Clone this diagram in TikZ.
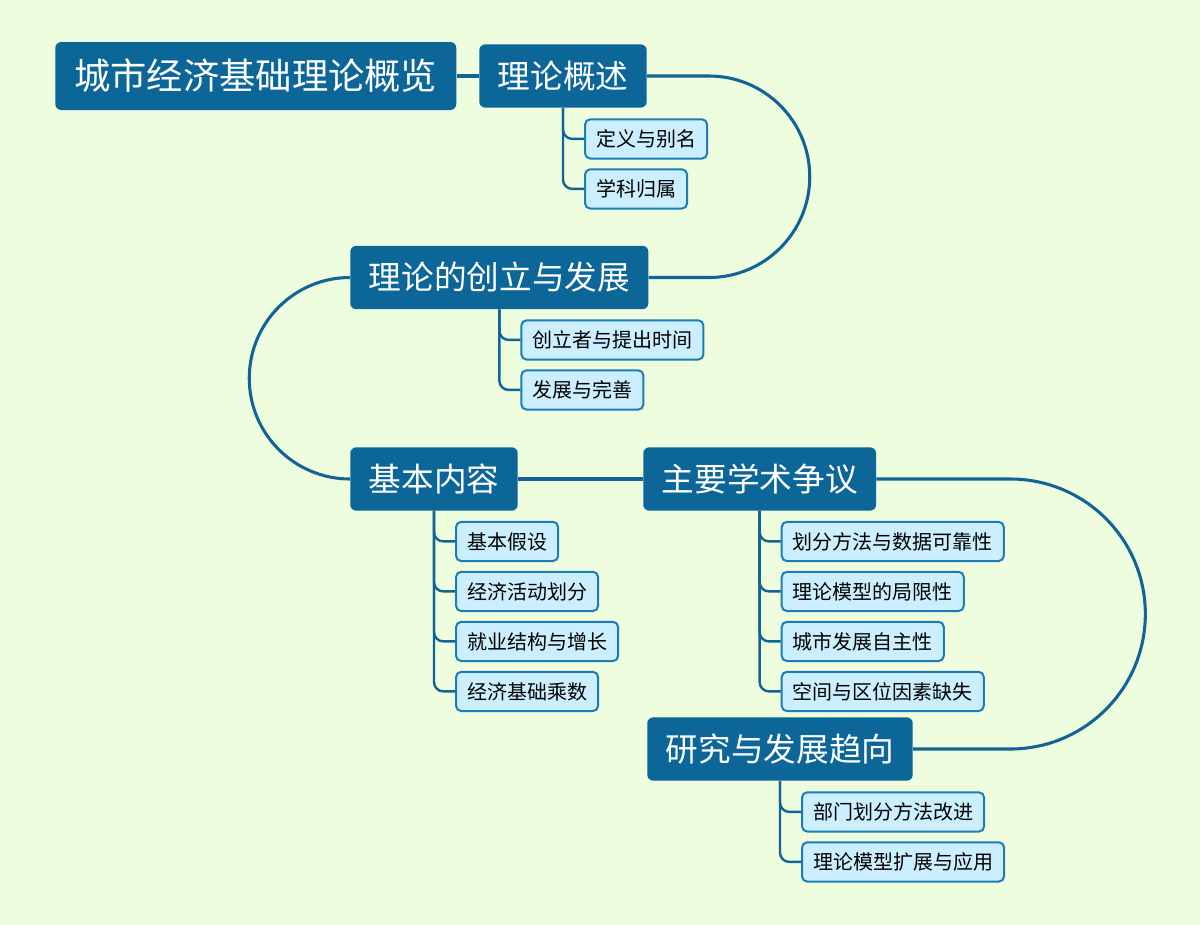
\documentclass[tikz,border=0pt]{standalone}
\usepackage{fontspec}
\newfontfamily\cjk{Noto Sans CJK SC}
\usetikzlibrary{calc}
\definecolor{bgg}{RGB}{237,253,221}
\definecolor{deep}{RGB}{12,102,152}
\definecolor{wire}{RGB}{18,100,150}
\definecolor{pale}{RGB}{204,239,255}
\definecolor{rim}{RGB}{28,124,184}
\tikzset{
  box/.style  ={fill=deep, text=white, rounded corners=4.5pt, anchor=west},
  root/.style ={box, minimum height=51pt, minimum width=300.75pt, inner xsep=0pt,
                font=\cjk\fontsize{27.2pt}{32pt}\selectfont},
  topic/.style={box, minimum height=47.5pt, inner xsep=13.8pt,
                font=\cjk\fontsize{24.5pt}{28pt}\selectfont},
  leaf/.style ={fill=pale, draw=rim, line width=1.5pt, rounded corners=4pt,
                anchor=west, minimum height=29.5pt, inner xsep=8.3pt,
                font=\cjk\fontsize{15pt}{18pt}\selectfont},
  trunk/.style={draw=wire, line width=2.3pt},
  twig/.style ={draw=wire, line width=1.8pt, rounded corners=7pt},
}

\begin{document}
\begin{tikzpicture}[x=0.75pt, y=-0.75pt]
  \fill[bgg] (0,0) rectangle (1200,925);
  \useasboundingbox (0,0) rectangle (1200,925);

  \node[root]  (main) at (55,76)    {城市经济基础理论概览};

  % overview
  \node[topic] (ov)  at (479,76)    {理论概述};
  \node[leaf]  (ov1) at ($(ov.south)+(21,31)$) {定义与别名};
  \node[leaf]  (ov2) at ($(ov.south)+(21,81)$) {学科归属};

  % founding
  \node[topic] (cl)  at (350,277.5) {理论的创立与发展};
  \node[leaf]  (cl1) at ($(cl.south)+(21,30.5)$) {创立者与提出时间};
  \node[leaf]  (cl2) at ($(cl.south)+(21,80.5)$) {发展与完善};

  % content
  \node[topic] (bc)  at (350,479)   {基本内容};
  \node[leaf]  (bc1) at ($(bc.south)+(21,30.5)$)  {基本假设};
  \node[leaf]  (bc2) at ($(bc.south)+(21,80.5)$)  {经济活动划分};
  \node[leaf]  (bc3) at ($(bc.south)+(21,130.5)$) {就业结构与增长};
  \node[leaf]  (bc4) at ($(bc.south)+(21,180.5)$) {经济基础乘数};

  % debates
  \node[topic] (zy)  at (643,479)   {主要学术争议};
  \node[leaf]  (zy1) at ($(zy.south)+(21,30.5)$)  {划分方法与数据可靠性};
  \node[leaf]  (zy2) at ($(zy.south)+(21,80.5)$)  {理论模型的局限性};
  \node[leaf]  (zy3) at ($(zy.south)+(21,130.5)$) {城市发展自主性};
  \node[leaf]  (zy4) at ($(zy.south)+(21,180.5)$) {空间与区位因素缺失};

  % trends
  \node[topic] (yj)  at (647,749)   {研究与发展趋向};
  \node[leaf]  (yj1) at ($(yj.south)+(21,31)$) {部门划分方法改进};
  \node[leaf]  (yj2) at ($(yj.south)+(21,81)$) {理论模型扩展与应用};

  \draw[trunk] (main.east) -- (ov.west);
  \draw[trunk] let \p1=(ov.east), \p2=(cl.east), \n1={(\y1-\y2)/2} in
        (ov.east) -- ++(62,0) arc[start angle=90, end angle=-90, radius=\n1] -- (cl.east);
  \draw[trunk] let \p1=(cl.west), \p2=(bc.west), \n1={(\y1-\y2)/2} in
        (cl.west) arc[start angle=90, end angle=270, radius=\n1] -- (bc.west);
  \draw[trunk] (bc.east) -- (zy.west);
  \draw[trunk] let \p1=(zy.east), \p2=(yj.east), \n1={(\y1-\y2)/2} in
        (zy.east) -- ++(134,0) arc[start angle=90, end angle=-90, radius=\n1] -- (yj.east);

  \draw[twig] (ov.south) |- (ov1.west);  \draw[twig] (ov.south) |- (ov2.west);
  \draw[twig] (cl.south) |- (cl1.west);  \draw[twig] (cl.south) |- (cl2.west);
  \draw[twig] (bc.south) |- (bc1.west);  \draw[twig] (bc.south) |- (bc2.west);
  \draw[twig] (bc.south) |- (bc3.west);  \draw[twig] (bc.south) |- (bc4.west);
  \draw[twig] (zy.south) |- (zy1.west);  \draw[twig] (zy.south) |- (zy2.west);
  \draw[twig] (zy.south) |- (zy3.west);  \draw[twig] (zy.south) |- (zy4.west);
  \draw[twig] (yj.south) |- (yj1.west);  \draw[twig] (yj.south) |- (yj2.west);
\end{tikzpicture}
\end{document}
